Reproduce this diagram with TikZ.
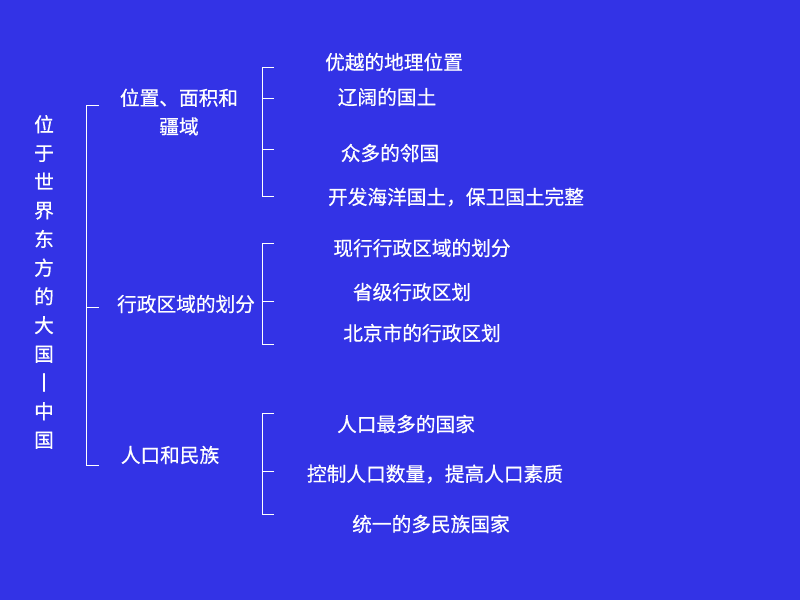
\documentclass[tikz,border=0pt]{standalone}
\usepackage{fontspec}
\setmainfont[FakeBold=0.6]{Noto Sans CJK SC}
\usetikzlibrary{positioning}
\definecolor{slideblue}{RGB}{51,51,230}

\begin{document}
\begin{tikzpicture}[x=0.025cm, y=-0.025cm,
  every node/.style={font=\fontsize{14}{20.4}\selectfont, text=white, inner sep=0pt},
  brace/.style={draw=white, line width=0.7pt}]
  % slide background
  \fill[slideblue] (0,0) rectangle (800,600);
  % title, set vertically
  \node[align=center] (title) at (44,282) {位\\于\\世\\界\\东\\方\\的\\大\\国\\丨\\中\\国};
  % main topics
  \node[align=center] (pos) at (179,112) {位置、面积和\\疆域};
  \node (adm) at (186,304) {行政区域的划分};
  \node (pop) at (170,455) {人口和民族};
  % details of the first topic
  \node (p1) at (394,62) {优越的地理位置};
  \node (p2) at (387,97) {辽阔的国土};
  \node (p3) at (390,153) {众多的邻国};
  \node (p4) at (456,197) {开发海洋国土，保卫国土完整};
  % details of the second topic
  \node (a1) at (422,248) {现行行政区域的划分};
  \node (a2) at (412,292) {省级行政区划};
  \node (a3) at (422,333) {北京市的行政区划};
  % details of the third topic
  \node (r1) at (406,424) {人口最多的国家};
  \node (r2) at (435,474) {控制人口数量，提高人口素质};
  \node (r3) at (431,524) {统一的多民族国家};
  % brackets
  \coordinate (lt) at (99,105);
  \coordinate (lm) at (99,307);
  \coordinate (lb) at (99,465);
  \draw[brace] (lt) -- ++(-13,0) |- (lb);
  \draw[brace] (lm) -- ++(-13,0);
  \foreach \top/\mid/\bot/\extra in {67/98/196/149, 243/301/344/301, 413/471/514/471}{
    \coordinate (bt) at (274,\top);
    \coordinate (bb) at (274,\bot);
    \draw[brace] (bt) -- ++(-12,0) |- (bb);
    \draw[brace] (274,\mid) -- ++(-12,0);
    \draw[brace] (274,\extra) -- ++(-12,0);
  }
\end{tikzpicture}
\end{document}
